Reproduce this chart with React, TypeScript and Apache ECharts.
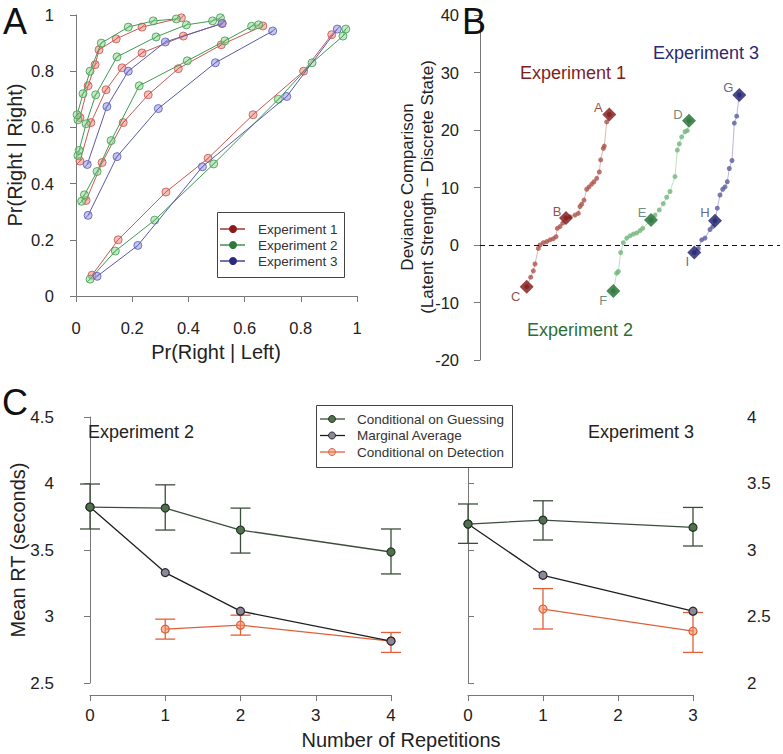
import React, { useEffect, useRef } from "react";
import * as echarts from "echarts";

const FONT = '"Liberation Sans", Arial, Helvetica, sans-serif';

// ---------- Panel A : ROC curves (x = Pr(Right|Left), y = Pr(Right|Right)) ----------
const exp1Rocs = [
  [[0.014, 0.635], [0.043, 0.748], [0.068, 0.823], [0.082, 0.876], [0.143, 0.915], [0.235, 0.957], [0.375, 0.99]],
  [[0.014, 0.48], [0.053, 0.617], [0.107, 0.734], [0.164, 0.812], [0.235, 0.865], [0.382, 0.925], [0.52, 0.97]],
  [[0.036, 0.34], [0.093, 0.475], [0.168, 0.617], [0.257, 0.716], [0.364, 0.809], [0.517, 0.894], [0.665, 0.961]],
  [[0.057, 0.074], [0.15, 0.2], [0.32, 0.37], [0.47, 0.49], [0.63, 0.645], [0.81, 0.8], [0.91, 0.93]],
];
const exp2Rocs = [
  [[0.007, 0.627], [0.004, 0.645], [0.025, 0.72], [0.05, 0.8], [0.09, 0.9], [0.186, 0.957], [0.275, 0.979], [0.357, 0.986]],
  [[0.007, 0.5], [0.011, 0.518], [0.036, 0.613], [0.07, 0.716], [0.146, 0.851], [0.285, 0.922], [0.393, 0.965], [0.486, 0.979], [0.514, 0.99]],
  [[0.02, 0.337], [0.03, 0.36], [0.075, 0.443], [0.125, 0.553], [0.225, 0.748], [0.396, 0.837], [0.53, 0.908], [0.625, 0.96], [0.65, 0.965]],
  [[0.05, 0.06], [0.14, 0.16], [0.28, 0.27], [0.49, 0.47], [0.72, 0.7], [0.84, 0.83], [0.95, 0.925], [0.96, 0.95]],
];
const exp3Rocs = [
  [[0.04, 0.468], [0.11, 0.674], [0.186, 0.8], [0.318, 0.904], [0.52, 0.97]],
  [[0.043, 0.287], [0.146, 0.496], [0.293, 0.667], [0.496, 0.83], [0.7, 0.943]],
  [[0.075, 0.07], [0.22, 0.18], [0.45, 0.46], [0.75, 0.71], [0.93, 0.95]],
];
const expNames = ["Experiment 1", "Experiment 2", "Experiment 3"];

// ---------- Panel B : sorted deviance differences ----------
const devExp1X = [46.7, 50.7, 53.3, 55, 58.3, 60, 63.3, 66.7, 70, 73.3, 76, 77.3, 80, 82.7, 86, 90, 95, 98.3, 100, 101.7, 104, 106.7, 109, 111.7, 114, 116.7, 119.3, 120.7, 123.3, 124.3, 126.7, 129.3];
const devExp1Y = [-7.25, -5.6, -4.5, -3.3, -0.6, 0, 0.4, 0.6, 0.9, 1.1, 1.45, 2.9, 3.2, 3.8, 4.7, 4.9, 5.2, 5.5, 6.7, 7.1, 7.8, 9.7, 10.1, 10.6, 11.0, 11.6, 12.7, 14.8, 16.8, 17.2, 21.4, 22.7];
const devExp1Marks = [31, 14, 0];
const devExp1Labels = ["A", "B", "C"];

const devExp2X = [133.3, 136.7, 138.3, 140.7, 143.3, 146.7, 150, 153.3, 156.7, 160, 162.7, 171, 175, 179.3, 183.3, 186.7, 190, 195, 197.3, 199.3, 201.7, 205, 207.3, 209];
const devExp2Y = [-8.0, -4.9, -4.6, -1.3, 0.4, 1.2, 1.6, 1.9, 2.1, 2.5, 2.9, 4.35, 5.2, 6.1, 7.2, 8.3, 9.3, 11.9, 16.5, 17.6, 18.8, 19.7, 19.9, 21.6];
const devExp2Marks = [23, 11, 0];
const devExp2Labels = ["D", "E", "F"];

const devExp3X = [214.3, 218.3, 221.7, 225, 230, 232.7, 235, 237.3, 240, 242.7, 245, 247.3, 249.3, 252, 254.3, 256.7, 259.3];
const devExp3Y = [-1.3, -0.6, 0.9, 1.2, 2.7, 3.2, 4.2, 6.4, 8.7, 9.7, 10.1, 11.0, 13.3, 14.7, 21.2, 22.4, 26.1];
const devExp3Marks = [16, 6, 0];
const devExp3Labels = ["G", "H", "I"];

// ---------- Panel C : mean RT ----------
const repsExp2 = [0, 1, 2, 4];
const guessExp2 = [3.823, 3.815, 3.65, 3.485];
const guessExp2Lo = [3.658, 3.65, 3.477, 3.32];
const guessExp2Hi = [3.996, 3.99, 3.815, 3.658];
const margExp2 = [3.823, 3.33, 3.04, 2.815];
const detRepsExp2 = [1, 2, 4];
const detExp2 = [2.905, 2.935, 2.815];
const detExp2Lo = [2.83, 2.86, 2.73];
const detExp2Hi = [2.98, 3.01, 2.88];

const repsExp3 = [0, 1, 3];
const guessExp3 = [3.195, 3.225, 3.17];
const guessExp3Lo = [3.05, 3.075, 3.03];
const guessExp3Hi = [3.346, 3.37, 3.32];
const margExp3 = [3.195, 2.81, 2.54];
const detRepsExp3 = [1, 3];
const detExp3 = [2.556, 2.39];
const detExp3Lo = [2.406, 2.23];
const detExp3Hi = [2.71, 2.53];

const rtNames = ["Conditional on Guessing", "Marginal Average", "Conditional on Detection"];

// ---------- styles ----------
const rocLine = ["#c45a55", "#3f9a52", "#5a5aaa"];
const rocFill = ["rgba(236,140,130,0.55)", "rgba(150,215,150,0.55)", "rgba(150,150,228,0.55)"];
const rocBorder = ["#c8605a", "#4aa35c", "#6464b8"];
const legendA = ["#8b1a1a", "#2a7a3a", "#2a2a80"];
const devDiamond = ["#7d1414", "#1d6a2e", "#1c1c6a"];
const devDot = ["rgba(172,84,74,0.8)", "rgba(112,182,122,0.8)", "rgba(92,92,162,0.8)"];
const devLine = ["rgba(172,96,86,0.55)", "rgba(112,182,122,0.55)", "rgba(92,92,162,0.55)"];
const devLabel = ["#7d1a1a", "#46705a", "#3c3c70"];
const GUESS = "#3b4e3b";
const MARG = "#1e1e1e";
const DET = "#e0603a";

const HATCH = "path://M0,10A10,10 0 1,0 20,10A10,10 0 1,0 0,10Z M3,17L17,3";

const axisBase = {
  axisLine: { show: true, lineStyle: { color: "#777", width: 1 } },
  axisTick: { show: true, length: 6, lineStyle: { color: "#777", width: 1 } },
  splitLine: { show: false },
};
const labelBase = { color: "#222", fontFamily: FONT };

function text(t: string, x: number, y: number, size: number, fill = "#222", rot = 0, align = "center") {
  return {
    type: "text",
    x,
    y,
    rotation: rot,
    z: 120,
    style: { text: t, fontSize: size, fontFamily: FONT, fill, align, verticalAlign: "middle" },
  };
}

function errBars(xs: number[], lo: number[], hi: number[], xi: number, color: string) {
  return {
    type: "custom",
    xAxisIndex: xi,
    yAxisIndex: xi,
    data: xs.map((x, i) => [x, lo[i], hi[i]]),
    encode: { x: 0, y: [1, 2] },
    z: 3,
    renderItem: (params: any, api: any) => {
      const a = api.coord([api.value(0), api.value(1)]);
      const b = api.coord([api.value(0), api.value(2)]);
      const w = 10;
      const st = { stroke: color, lineWidth: 1.3 };
      return {
        type: "group",
        children: [
          { type: "line", shape: { x1: a[0], y1: a[1], x2: b[0], y2: b[1] }, style: st },
          { type: "line", shape: { x1: a[0] - w, y1: a[1], x2: a[0] + w, y2: a[1] }, style: st },
          { type: "line", shape: { x1: b[0] - w, y1: b[1], x2: b[0] + w, y2: b[1] }, style: st },
        ],
      };
    },
  };
}

function rtLine(name: string, xs: number[], ys: number[], xi: number, line: string, fill: string, border: string, z: number) {
  return {
    type: "line",
    name,
    xAxisIndex: xi,
    yAxisIndex: xi,
    data: xs.map((x, i) => [x, ys[i]]),
    symbol: "circle",
    symbolSize: 8,
    showAllSymbol: true,
    lineStyle: { color: line, width: 1.3 },
    itemStyle: { color: fill, borderColor: border, borderWidth: 1.2 },
    z,
  };
}

export default function App() {
  const ref = useRef<HTMLDivElement>(null);
  useEffect(() => {
    document.body.style.margin = "0";
    const chart = echarts.init(ref.current!, undefined, { renderer: "svg" });

    const series: any[] = [];
    // Panel A
    [exp1Rocs, exp2Rocs, exp3Rocs].forEach((rocs, e) => {
      rocs.forEach((curve) => {
        series.push({
          type: "line",
          name: expNames[e],
          xAxisIndex: 0,
          yAxisIndex: 0,
          data: curve,
          symbol: HATCH,
          symbolSize: 8,
          showAllSymbol: true,
          lineStyle: { color: rocLine[e], width: 1 },
          itemStyle: { color: rocFill[e], borderColor: rocBorder[e], borderWidth: 0.9 },
          z: 2 + e,
        });
      });
    });

    // Panel B
    const devSets = [
      [devExp1X, devExp1Y, devExp1Marks, devExp1Labels],
      [devExp2X, devExp2Y, devExp2Marks, devExp2Labels],
      [devExp3X, devExp3Y, devExp3Marks, devExp3Labels],
    ] as any[];
    const labelOffsets: number[][][] = [
      [[-11, -7], [-9, -6], [-11, 10]],
      [[-11, -6], [-9, -7], [-10, 9]],
      [[-11, -7], [-10, -8], [-7, 9]],
    ];
    devSets.forEach(([xs, ys, marks, labels], e) => {
      series.push({
        type: "line",
        name: "dev" + e,
        xAxisIndex: 1,
        yAxisIndex: 1,
        data: xs.map((x: number, i: number) => [x, ys[i]]),
        symbol: "circle",
        symbolSize: 5,
        showAllSymbol: true,
        lineStyle: { color: devLine[e], width: 0.8 },
        itemStyle: { color: devDot[e], borderWidth: 0 },
        z: 2,
        markLine:
          e === 0
            ? {
                silent: true,
                symbol: "none",
                label: { show: false },
                lineStyle: { color: "#111", type: [5, 4], width: 1 },
                data: [{ yAxis: 0 }],
              }
            : undefined,
      });
      series.push({
        type: "scatter",
        name: "devmark" + e,
        xAxisIndex: 1,
        yAxisIndex: 1,
        symbol: "diamond",
        symbolSize: 14,
        z: 5,
        itemStyle: { color: devDiamond[e] },
        data: marks.map((idx: number, k: number) => ({
          value: [xs[idx], ys[idx]],
          label: {
            show: true,
            formatter: labels[k],
            position: "inside",
            offset: labelOffsets[e][k],
            color: devLabel[e],
            fontSize: 13,
            fontFamily: FONT,
          },
        })),
      });
    });

    // Panel C
    series.push(errBars(repsExp2, guessExp2Lo, guessExp2Hi, 2, GUESS));
    series.push(errBars(detRepsExp2, detExp2Lo, detExp2Hi, 2, DET));
    series.push(rtLine(rtNames[2], detRepsExp2, detExp2, 2, DET, "rgba(240,140,100,0.55)", DET, 4));
    series.push(rtLine(rtNames[1], repsExp2, margExp2, 2, MARG, "#8e869a", "#2a2a2a", 5));
    series.push(rtLine(rtNames[0], repsExp2, guessExp2, 2, GUESS, "#52704f", "#253525", 6));
    series.push(errBars(repsExp3, guessExp3Lo, guessExp3Hi, 3, GUESS));
    series.push(errBars(detRepsExp3, detExp3Lo, detExp3Hi, 3, DET));
    series.push(rtLine(rtNames[2], detRepsExp3, detExp3, 3, DET, "rgba(240,140,100,0.55)", DET, 4));
    series.push(rtLine(rtNames[1], repsExp3, margExp3, 3, MARG, "#8e869a", "#2a2a2a", 5));
    series.push(rtLine(rtNames[0], repsExp3, guessExp3, 3, GUESS, "#52704f", "#253525", 6));

    const graphic: any[] = [];
    // Panel letters & titles
    graphic.push(text("A", 15, 21, 36, "#111"));
    graphic.push(text("B", 474, 21, 36, "#111"));
    graphic.push(text("C", 15, 402, 36, "#111"));
    graphic.push(text("Pr(Right | Right)", 15, 155, 20, "#222", Math.PI / 2));
    graphic.push(text("Pr(Right | Left)", 216, 352, 20, "#222"));
    graphic.push(text("Deviance Comparison", 407, 187, 17, "#222", Math.PI / 2));
    graphic.push(text("(Latent Strength \u2212 Discrete State)", 427, 187, 17, "#222", Math.PI / 2));
    graphic.push(text("Experiment 1", 573, 73, 18, "#7d1e1e"));
    graphic.push(text("Experiment 3", 706, 53, 18, "#2a2a72"));
    graphic.push(text("Experiment 2", 580, 330, 18, "#2c6e3a"));
    graphic.push(text("Mean RT (seconds)", 18, 550, 20, "#222", Math.PI / 2));
    graphic.push(text("Number of Repetitions", 401, 740, 20, "#222"));
    graphic.push(text("Experiment 2", 88, 432, 18, "#222", 0, "left"));
    graphic.push(text("Experiment 3", 588, 432, 18, "#222", 0, "left"));

    // Legend A
    graphic.push({ type: "rect", z: 110, shape: { x: 217.5, y: 212.5, width: 127, height: 65 }, style: { fill: "#fff", stroke: "#444", lineWidth: 1 } });
    expNames.forEach((n, i) => {
      const y = 229 + 16 * i;
      graphic.push({ type: "line", z: 115, shape: { x1: 220, y1: y, x2: 245, y2: y }, style: { stroke: legendA[i], lineWidth: 1.3 } });
      graphic.push({ type: "circle", z: 116, shape: { cx: 233, cy: y, r: 4 }, style: { fill: legendA[i] } });
      graphic.push(text(n, 258, y, 13.5, "#333", 0, "left"));
    });

    // Legend C
    graphic.push({ type: "rect", z: 110, shape: { x: 316.5, y: 405.5, width: 196, height: 62 }, style: { fill: "#fff", stroke: "#444", lineWidth: 1 } });
    const legC = [
      [GUESS, "#52704f", "#253525"],
      [MARG, "#8e869a", "#2a2a2a"],
      [DET, "rgba(240,140,100,0.55)", DET],
    ];
    rtNames.forEach((n, i) => {
      const y = 419 + 16.5 * i;
      graphic.push({ type: "line", z: 115, shape: { x1: 320, y1: y, x2: 345, y2: y }, style: { stroke: legC[i][0], lineWidth: 1.3 } });
      graphic.push({ type: "circle", z: 116, shape: { cx: 332, cy: y, r: 3.5 }, style: { fill: legC[i][1], stroke: legC[i][2], lineWidth: 1 } });
      graphic.push(text(n, 357, y, 13.5, "#333", 0, "left"));
    });

    const fmt1 = (v: number) => String(Math.round(v * 10) / 10);

    chart.setOption({
      animation: false,
      backgroundColor: "#fff",
      grid: [
        { left: 76, top: 15, width: 281, height: 281 },
        { left: 480, top: 15, width: 300, height: 345 },
        { left: 90, top: 417, width: 301, height: 266 },
        { left: 468, top: 417, width: 225, height: 266 },
      ],
      xAxis: [
        { ...axisBase, gridIndex: 0, type: "value", min: 0, max: 1, interval: 0.2, offset: 14, axisLabel: { ...labelBase, fontSize: 16.5, margin: 9, formatter: fmt1 } },
        { gridIndex: 1, type: "value", min: 0, max: 300, show: false },
        { ...axisBase, gridIndex: 2, type: "value", min: 0, max: 4, interval: 1, offset: 12, axisLabel: { ...labelBase, fontSize: 17, margin: 12 } },
        { ...axisBase, gridIndex: 3, type: "value", min: 0, max: 3, interval: 1, offset: 12, axisLabel: { ...labelBase, fontSize: 17, margin: 12 } },
      ],
      yAxis: [
        { ...axisBase, gridIndex: 0, type: "value", min: 0, max: 1, interval: 0.2, offset: 13, axisLabel: { ...labelBase, fontSize: 16.5, margin: 9, formatter: fmt1 } },
        { ...axisBase, gridIndex: 1, type: "value", min: -20, max: 40, interval: 10, offset: 12, axisLabel: { ...labelBase, fontSize: 16.5, margin: 9 } },
        { ...axisBase, gridIndex: 2, type: "value", min: 2.5, max: 4.5, interval: 0.5, offset: 27, axisLabel: { ...labelBase, fontSize: 17, margin: 9, formatter: fmt1 } },
        { ...axisBase, gridIndex: 3, type: "value", position: "right", min: 2, max: 4, interval: 0.5, offset: 45, axisLabel: { ...labelBase, fontSize: 17, margin: 9, formatter: fmt1 } },
      ],
      series,
      graphic,
    });
    return () => chart.dispose();
  }, []);
  return <div ref={ref} style={{ width: 783, height: 754 }} />;
}
